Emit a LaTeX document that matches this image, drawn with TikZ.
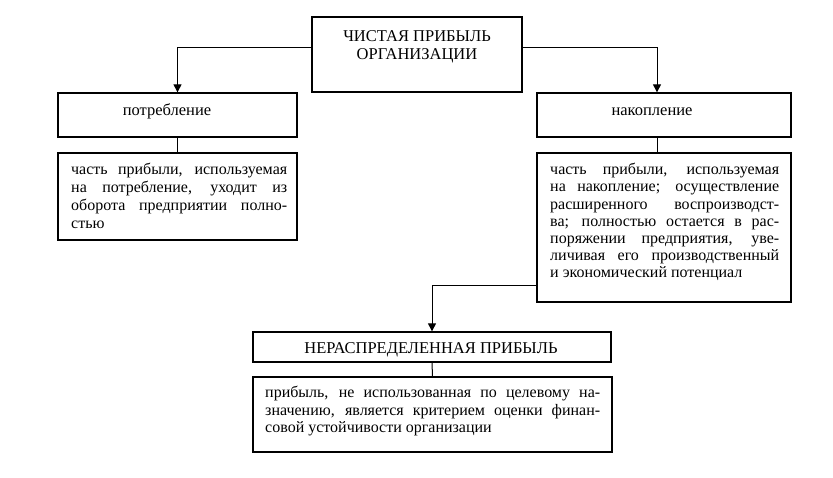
\documentclass[tikz,border=0pt]{standalone}
\usepackage{fontspec}
\setmainfont{Liberation Serif}
\usetikzlibrary{arrows.meta}
\tikzset{
  caja/.style={draw, line width=1.3pt, inner sep=0pt},
  titulo/.style={font=\fontsize{16.5}{18}\selectfont, align=center, inner sep=0pt},
  texto/.style={font=\fontsize{16}{18}\selectfont, align=justify, inner sep=0pt, anchor=north west},
  flecha/.style={line width=1pt, -{Triangle[width=8pt,length=8pt]}},
  linea/.style={line width=1pt}
}
\begin{document}
\begin{tikzpicture}[x=1pt,y=-1pt]
    \useasboundingbox (0,0) rectangle (833,477);

    % Cajas
    \node[caja, minimum width=210pt, minimum height=75pt] (neta) at (417,54.5) {};
    \node[caja, minimum width=239pt, minimum height=44pt] (consumo) at (177.5,115) {};
    \node[caja, minimum width=254pt, minimum height=44pt] (acum) at (664,115) {};
    \node[caja, minimum width=239pt, minimum height=87pt] (consumotxt) at (177.5,196.5) {};
    \node[caja, minimum width=254pt, minimum height=149pt] (acumtxt) at (664,227.5) {};
    \node[caja, minimum width=358pt, minimum height=30pt] (retenida) at (432,347) {};
    \node[caja, minimum width=359pt, minimum height=75pt] (retenidatxt) at (432.5,414.5) {};

    % Textos
    \node[titulo, anchor=north] (neta-t) at (417,30.5) {ЧИСТАЯ ПРИБЫЛЬ\\ОРГАНИЗАЦИИ};
    \node[titulo, anchor=base] (consumo-t) at (167,115) {потребление};
    \node[titulo, anchor=base] (acum-t) at (652,115) {накопление};
    \node[titulo, anchor=base] (retenida-t) at (431,353) {НЕРАСПРЕДЕЛЕННАЯ ПРИБЫЛЬ};
    \node[texto, text width=216pt] (consumotxt-t) at (71,163)
      {часть прибыли, используемая\linebreak на потребление, уходит из\linebreak оборота предприятии полно-\linebreak стью};
    \node[texto, text width=229pt, font=\fontsize{16}{17.2}\selectfont] (acumtxt-t) at (550,163)
      {часть прибыли, используемая\linebreak на накопление; осуществление\linebreak расширенного воспроизводст-\linebreak ва; полностью остается в рас-\linebreak поряжении предприятия, уве-\linebreak личивая его производственный\linebreak и экономический потенциал};
    \node[texto, text width=335pt, font=\fontsize{16}{17.5}\selectfont] (retenidatxt-t) at (265,386)
      {прибыль, не использованная по целевому на-\linebreak значению, является критерием оценки финан-\linebreak совой устойчивости организации};

    % Flechas
    \draw[flecha] ([yshift=7.5pt]neta.west) -| (consumo.north);
    \draw[flecha] ([yshift=7.5pt]neta.east) -| ([xshift=-7pt]acum.north);
    \draw[linea] (consumo.south) -- (consumotxt.north);
    \draw[linea] ([xshift=-7pt]acum.south) -- ([xshift=-7pt]acumtxt.north);
    \draw[flecha] ([yshift=-57.5pt]acumtxt.west) -| (retenida.north);
    \draw[linea] (retenida.south) -- (retenidatxt.north);
\end{tikzpicture}
\end{document}
